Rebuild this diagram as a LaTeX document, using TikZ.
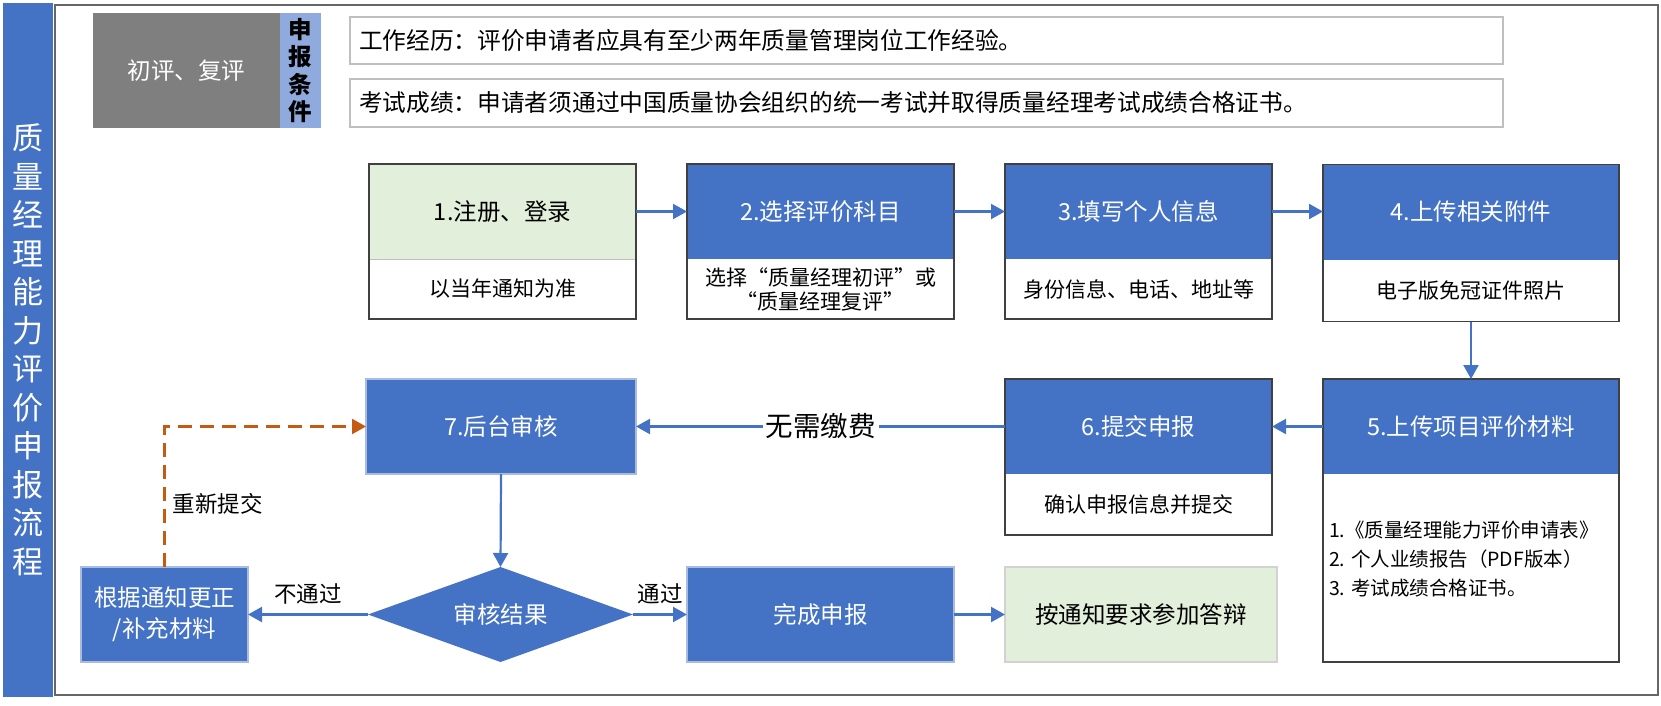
\documentclass[tikz,border=0pt]{standalone}
\usepackage{fontspec}
\setmainfont{Noto Sans CJK SC}
\usetikzlibrary{arrows.meta,shapes.geometric}
\definecolor{cblue}{HTML}{4472C4}
\definecolor{cgreen}{HTML}{E2EFDA}
\definecolor{cgray}{HTML}{7F7F7F}
\definecolor{clblue}{HTML}{8FAADC}
\definecolor{corange}{HTML}{C55A11}
\definecolor{cdark}{HTML}{404040}
\definecolor{cpale}{HTML}{A9BCE0}
\definecolor{cframe}{HTML}{666666}
\definecolor{cbox}{HTML}{BFBFBF}
\begin{document}
\begin{tikzpicture}[x=1pt,y=-1pt,
  every node/.style={inner sep=0pt,outer sep=0pt},
  ttl/.style={font=\fontsize{23.5}{28}\selectfont},
  subt/.style={font=\fontsize{21}{24}\selectfont, align=center},
  lst/.style={font=\fontsize{19.5}{29}\selectfont, align=left},
  bluetop/.style={fill=cblue, text=white, ttl},
  greentop/.style={fill=cgreen, text=black, ttl},
  whitebot/.style={fill=white, text=black, subt},
  outer/.style={draw=cdark, line width=1.5pt},
  paleblue/.style={fill=cblue, draw=cpale, line width=1.3pt, text=white, ttl},
  flow/.style={draw=cblue, line width=2.2pt, -{Triangle[width=15pt,length=14pt]}},
  retry/.style={draw=corange, line width=2.2pt, dash pattern=on 14pt off 8pt, -{Triangle[width=15pt,length=14pt]}},
  lbl/.style={font=\fontsize{22.5}{26}\selectfont, text=black},
  reqbox/.style={draw=cbox, line width=1.3pt, fill=white, minimum width=1153pt, text width=1135pt, inner xsep=9pt, align=left, font=\fontsize{23.7}{27}\selectfont}
]
\useasboundingbox (0,0) rectangle (1661,706);

% side bar and main frame
\node[fill=cblue, text=white, minimum width=50pt, minimum height=694pt, align=center,
      font=\fontsize{31}{38.5}\selectfont] (bar) at (28,350)
  {质\\量\\经\\理\\能\\力\\评\\价\\申\\报\\流\\程};
\node[draw=cframe, line width=2.5pt, minimum width=1603pt, minimum height=690pt] (frame) at (856.5,350) {};

% conditions
\node[fill=cgray, text=white, minimum width=187pt, minimum height=115pt, ttl] (grade) at (186.5,70.5) {初评、复评};
\node[fill=clblue, text=black, minimum width=41pt, minimum height=115pt, align=center,
      font=\fontsize{23.5}{27.5}\selectfont\bfseries] (cond) at (300.5,70.5) {申\\报\\条\\件};
\node[reqbox, minimum height=47pt] (req1) at (926.5,40.5) {工作经历：评价申请者应具有至少两年质量管理岗位工作经验。};
\node[reqbox, minimum height=48pt] (req2) at (926.5,103) {考试成绩：申请者须通过中国质量协会组织的统一考试并取得质量经理考试成绩合格证书。};

% row 1
\node[greentop, minimum width=267pt, minimum height=95pt] (b1t) at (502.5,211.5) {1.注册、登录};
\node[whitebot, minimum width=267pt, minimum height=60pt] (b1b) at (502.5,289) {以当年通知为准};
\draw[cbox, line width=1pt] (b1t.south west) -- (b1t.south east);
\draw[outer] (b1t.north west) rectangle (b1b.south east);

\node[bluetop, minimum width=267pt, minimum height=95pt] (b2t) at (820.5,211.5) {2.选择评价科目};
\node[whitebot, minimum width=267pt, minimum height=60pt] (b2b) at (820.5,289) {选择“质量经理初评”或\\“质量经理复评”};
\draw[outer] (b2t.north west) rectangle (b2b.south east);

\node[bluetop, minimum width=267pt, minimum height=95pt] (b3t) at (1138.5,211.5) {3.填写个人信息};
\node[whitebot, minimum width=267pt, minimum height=60pt] (b3b) at (1138.5,289) {身份信息、电话、地址等};
\draw[outer] (b3t.north west) rectangle (b3b.south east);

\node[bluetop, minimum width=296pt, minimum height=95pt] (b4t) at (1471,212) {4.上传相关附件};
\node[whitebot, minimum width=296pt, minimum height=62pt] (b4b) at (1471,290.5) {电子版免冠证件照片};
\draw[outer] (b4t.north west) rectangle (b4b.south east);

% row 2
\node[bluetop, minimum width=296pt, minimum height=95pt] (b5t) at (1471,426.5) {5.上传项目评价材料};
\node[fill=white, minimum width=296pt, minimum height=188pt] (b5b) at (1471,568) {};
\node[lst, anchor=west] (b5list) at (1329,559) {1.《质量经理能力评价申请表》\\2. 个人业绩报告（PDF版本）\\3. 考试成绩合格证书。};
\draw[outer] (b5t.north west) rectangle (b5b.south east);

\node[bluetop, minimum width=267pt, minimum height=95pt] (b6t) at (1138.5,426.5) {6.提交申报};
\node[whitebot, minimum width=267pt, minimum height=61pt] (b6b) at (1138.5,504.5) {确认申报信息并提交};
\draw[outer] (b6t.north west) rectangle (b6b.south east);

\node[paleblue, minimum width=270pt, minimum height=95pt] (b7) at (501,426.5) {7.后台审核};

% row 3
\node[diamond, fill=cblue, text=white, ttl, minimum width=265pt, minimum height=95pt, aspect=2.8] (dia) at (500.5,614.5) {审核结果};
\node[paleblue, minimum width=167pt, minimum height=95pt, align=center,
      font=\fontsize{23.5}{31}\selectfont] (fix) at (164.5,614.5) {根据通知更正\\/补充材料};
\node[paleblue, minimum width=267pt, minimum height=95pt] (done) at (820.5,614.5) {完成申报};
\node[fill=cgreen, draw=cbox!70, line width=1.2pt, text=black, ttl, minimum width=272pt, minimum height=95pt] (defense) at (1141,614.5) {按通知要求参加答辩};

% connectors
\draw[flow] (b1t.east) -- (b2t.west);
\draw[flow] (b2t.east) -- (b3t.west);
\draw[flow] (b3t.east) -- (b4t.west |- b3t.east);
\draw[flow] (b4b.south) -- (b5t.north);
\draw[flow] (b5t.west) -- (b6t.east);
\draw[flow] (b6t.west) -- node[fill=white, inner xsep=3pt, inner ysep=2pt, font=\fontsize{27.5}{30}\selectfont, text=black] (nofee) {无需缴费} (b7.east);
\draw[flow] (b7.south) -- (dia.north);
\draw[flow] (dia.west) -- node[lbl, above=10pt] (fail) {不通过} (fix.east);
\draw[flow] (dia.east) -- node[lbl, above=10pt] (pass) {通过} (done.west);
\draw[flow] (done.east) -- (defense.west);
\draw[retry] (fix.north) |- node[lbl, pos=0.225, anchor=west, xshift=8pt] (resub) {重新提交} (b7.west);
\end{tikzpicture}
\end{document}
